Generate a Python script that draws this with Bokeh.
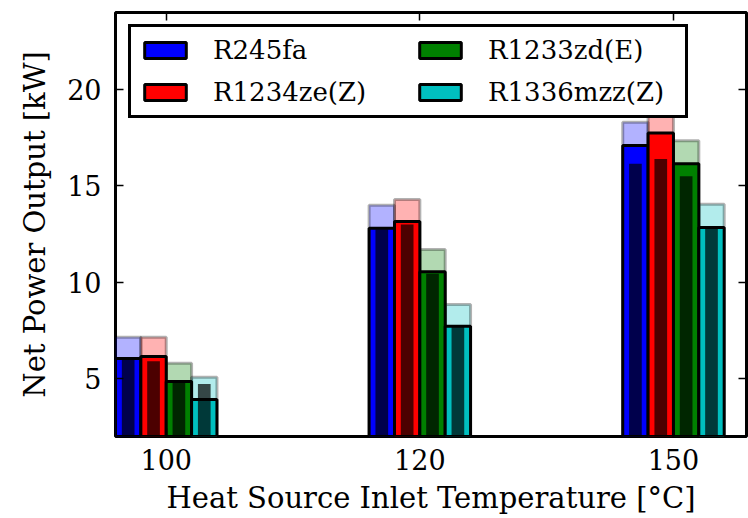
from bokeh.plotting import figure
from bokeh.models import Range1d, FixedTicker, LinearAxis, Legend, LegendItem
from bokeh.embed import file_html
from bokeh.resources import INLINE

temps = ["100", "120", "150"]
fluids = ["R245fa", "R1234ze(Z)", "R1233zd(E)", "R1336mzz(Z)"]
colors = ["#0000ff", "#ff0000", "#008000", "#00bfbf"]

# Light (upper) bars, kW
upper_R245fa = [7.15, 14.0, 18.3]
upper_R1234ze = [7.15, 14.3, 19.3]
upper_R1233zd = [5.8, 11.7, 17.35]
upper_R1336mzz = [5.08, 8.85, 14.05]

# Main net power bars, kW
net_R245fa = [6.05, 12.8, 17.1]
net_R1234ze = [6.15, 13.15, 17.75]
net_R1233zd = [4.85, 10.55, 16.15]
net_R1336mzz = [3.92, 7.72, 12.85]

# Inner dark bars, kW
inner_R245fa = [6.0, 12.75, 16.15]
inner_R1234ze = [5.9, 13.0, 16.4]
inner_R1233zd = [4.8, 10.45, 15.5]
inner_R1336mzz = [4.72, 7.7, 12.8]

y_ticks = [5, 10, 15, 20]

uppers = [upper_R245fa, upper_R1234ze, upper_R1233zd, upper_R1336mzz]
nets = [net_R245fa, net_R1234ze, net_R1233zd, net_R1336mzz]
inners = [inner_R245fa, inner_R1234ze, inner_R1233zd, inner_R1336mzz]

FONT = "DejaVu Serif"
bw = 0.1

p = figure(frame_width=631, frame_height=424,
           x_range=Range1d(-0.2, 2.288), y_range=Range1d(2, 24),
           output_backend="svg", toolbar_location=None,
           min_border_left=115, min_border_right=2, min_border_top=12, min_border_bottom=82)

items = []
for k, (name, col) in enumerate(zip(fluids, colors)):
    xs = [i - 2 * bw + (k + 0.5) * bw for i in range(len(temps))]
    p.vbar(x=xs, top=uppers[k], bottom=0, width=bw, fill_color=col, fill_alpha=0.3,
           line_color="black", line_alpha=0.3, line_width=3)
for k, (name, col) in enumerate(zip(fluids, colors)):
    xs = [i - 2 * bw + (k + 0.5) * bw for i in range(len(temps))]
    r = p.vbar(x=xs, top=nets[k], bottom=0, width=bw, fill_color=col,
               line_color="black", line_width=3)
    items.append(LegendItem(label=name, renderers=[r]))
for k in range(len(fluids)):
    xs = [i - 2 * bw + (k + 0.5) * bw for i in range(len(temps))]
    p.vbar(x=xs, top=inners[k], bottom=0, width=bw / 2, fill_color="black",
           fill_alpha=0.7, line_color=None)

p.xgrid.visible = False
p.ygrid.visible = False
p.outline_line_color = "black"
p.outline_line_width = 3
p.outline_line_alpha = 1

xt = FixedTicker(ticks=[0, 1, 2])
yt = FixedTicker(ticks=y_ticks)
p.xaxis.ticker = xt
p.xaxis.major_label_overrides = {i: t for i, t in enumerate(temps)}
p.yaxis.ticker = yt
p.xaxis.axis_label = "Heat Source Inlet Temperature [°C]"
p.yaxis.axis_label = "Net Power Output [kW]"

for ax in [p.xaxis[0], p.yaxis[0]]:
    ax.axis_line_color = None
    ax.major_tick_in = 8
    ax.major_tick_out = 0
    ax.major_tick_line_width = 1.5
    ax.minor_tick_line_color = None
    ax.major_label_text_font = FONT
    ax.major_label_text_font_size = "27px"
    ax.major_label_text_color = "black"
    ax.axis_label_text_font = FONT
    ax.axis_label_text_font_size = "29px"
    ax.axis_label_text_font_style = "normal"
    ax.axis_label_text_color = "black"
p.xaxis.major_label_standoff = 12
p.xaxis.axis_label_standoff = 8
p.yaxis.major_label_standoff = 14
p.yaxis.axis_label_standoff = 12

right = LinearAxis(ticker=yt, axis_line_color=None, major_tick_in=8, major_tick_out=0,
                   major_tick_line_width=1.5, minor_tick_line_color=None,
                   major_label_overrides={t: "" for t in y_ticks},
                   major_label_text_font_size="8px", major_label_standoff=0)
top = LinearAxis(ticker=xt, axis_line_color=None, major_tick_in=8, major_tick_out=0,
                 major_tick_line_width=1.5, minor_tick_line_color=None,
                 major_label_overrides={i: "" for i in range(len(temps))},
                 major_label_text_font_size="8px", major_label_standoff=0)
p.add_layout(right, "right")
p.add_layout(top, "above")

legend = Legend(items=items, ncols=2, location=(13, 318))
legend.border_line_color = "black"
legend.border_line_width = 3
legend.border_line_alpha = 1
legend.background_fill_alpha = 1
legend.label_text_font = FONT
legend.label_text_font_size = "26px"
legend.label_text_color = "black"
legend.glyph_width = 52
legend.glyph_height = 20
legend.label_standoff = 22
legend.padding = 8
legend.spacing = 12
legend.label_width = 189
legend.margin = 0
p.add_layout(legend)

open("out.html", "w").write(file_html(p, INLINE))
